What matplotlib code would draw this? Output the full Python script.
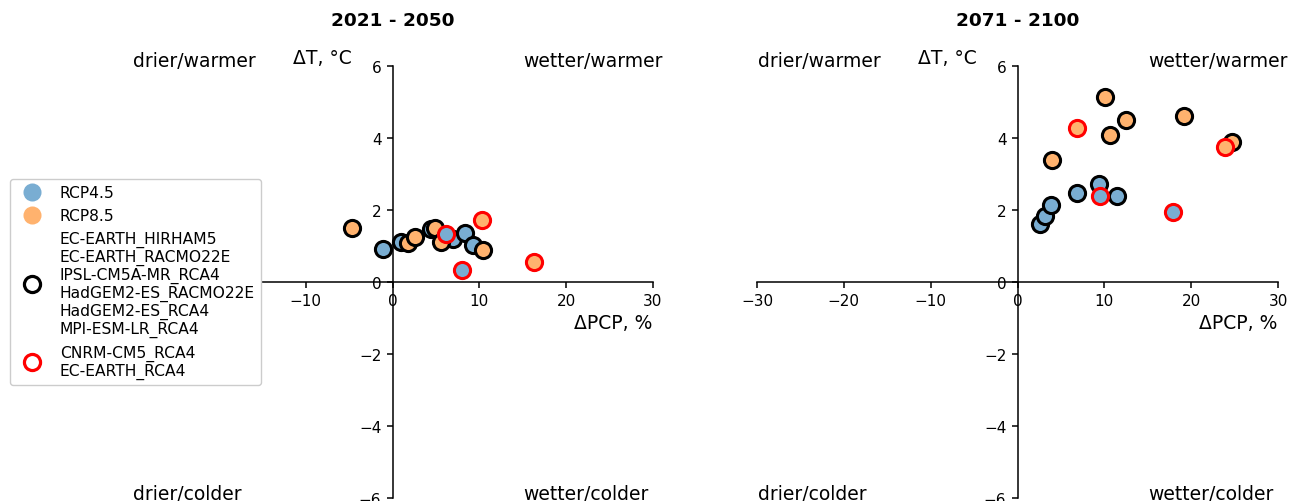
import matplotlib
matplotlib.use("Agg")

import matplotlib.pyplot as plt
from matplotlib.lines import Line2D

# ----------------------------------------------------
# data: change in precipitation (%) and temperature (C)
# ----------------------------------------------------

# 2021 - 2050
near_45_black_pcp = [-1.1, 1.0, 4.4, 7.0, 8.3, 9.3]
near_45_black_t = [0.92, 1.11, 1.48, 1.20, 1.35, 1.02]
near_45_red_pcp = [8.0, 6.2]
near_45_red_t = [0.34, 1.34]
near_85_black_pcp = [-4.7, 1.8, 2.6, 4.9, 5.6, 10.4]
near_85_black_t = [1.50, 1.08, 1.25, 1.50, 1.11, 0.88]
near_85_red_pcp = [10.3, 16.3]
near_85_red_t = [1.72, 0.55]

# 2071 - 2100
far_45_black_pcp = [2.6, 3.2, 3.9, 6.9, 9.35, 11.5]
far_45_black_t = [1.61, 1.84, 2.14, 2.47, 2.72, 2.40]
far_45_red_pcp = [9.5, 17.9]
far_45_red_t = [2.38, 1.94]
far_85_black_pcp = [4.0, 10.1, 10.6, 12.5, 19.2, 24.7]
far_85_black_t = [3.39, 5.13, 4.08, 4.51, 4.62, 3.90]
far_85_red_pcp = [6.9, 23.9]
far_85_red_t = [4.27, 3.74]

periods = ["2021 - 2050", "2071 - 2100"]

black_models = [
    "EC-EARTH_HIRHAM5",
    "EC-EARTH_RACMO22E",
    "IPSL-CM5A-MR_RCA4",
    "HadGEM2-ES_RACMO22E",
    "HadGEM2-ES_RCA4",
    "MPI-ESM-LR_RCA4",
]
red_models = ["CNRM-CM5_RCA4", "EC-EARTH_RCA4"]

blue = "#79add2"
orange = "#ffb26e"

figure = plt.figure(figsize=(13.03, 5.02), dpi=100)

W, H = 1303, 502
ax_w, ax_h = 521 / W, 432 / H
ax_bottom = 3 / H

ax1 = figure.add_axes([132 / W, ax_bottom, ax_w, ax_h])
ax2 = figure.add_axes([757 / W, ax_bottom, ax_w, ax_h])

panels = [
    (ax1, near_45_black_pcp, near_45_black_t, near_85_black_pcp, near_85_black_t,
     near_45_red_pcp, near_45_red_t, near_85_red_pcp, near_85_red_t),
    (ax2, far_45_black_pcp, far_45_black_t, far_85_black_pcp, far_85_black_t,
     far_45_red_pcp, far_45_red_t, far_85_red_pcp, far_85_red_t),
]

for i, (axes, bx45, by45, bx85, by85, rx45, ry45, rx85, ry85) in enumerate(panels):

    axes.scatter(bx45, by45, s=135, facecolor=blue, edgecolor="black", linewidths=2.2, zorder=3)
    axes.scatter(bx85, by85, s=135, facecolor=orange, edgecolor="black", linewidths=2.2, zorder=3)
    axes.scatter(rx45, ry45, s=135, facecolor=blue, edgecolor="red", linewidths=2.2, zorder=3)
    axes.scatter(rx85, ry85, s=135, facecolor=orange, edgecolor="red", linewidths=2.2, zorder=3)

    axes.set_xlim(-30, 30)
    axes.set_ylim(-6, 6)
    axes.set_xticks([-30, -20, -10, 0, 10, 20, 30])
    axes.set_yticks([-6, -4, -2, 0, 2, 4, 6])

    axes.spines["left"].set_position("zero")
    axes.spines["bottom"].set_position("zero")
    axes.spines["right"].set_visible(False)
    axes.spines["top"].set_visible(False)
    for side in ["left", "bottom"]:
        axes.spines[side].set_linewidth(1.1)

    axes.tick_params(labelsize=11, length=4.5, width=1.1)
    axes.patch.set_visible(False)

    # period title and quadrant labels
    axes.text(0.5, 1.095, periods[i], transform=axes.transAxes,
              ha="center", va="baseline", fontsize=13.3, fontweight="bold")
    axes.text(0.002, 1.001, "drier/warmer", transform=axes.transAxes,
              ha="left", va="baseline", fontsize=13.5)
    axes.text(0.750, 1.001, "wetter/warmer", transform=axes.transAxes,
              ha="left", va="baseline", fontsize=13.5)
    axes.text(0.309, 1.008, "ΔT, °C", transform=axes.transAxes,
              ha="left", va="baseline", fontsize=13.5)
    axes.text(0.002, -0.003, "drier/colder", transform=axes.transAxes,
              ha="left", va="baseline", fontsize=13.5)
    axes.text(0.750, -0.003, "wetter/colder", transform=axes.transAxes,
              ha="left", va="baseline", fontsize=13.5)
    axes.text(0.998, 0.3935, "ΔPCP, %", transform=axes.transAxes,
              ha="right", va="baseline", fontsize=13.5)

handles = [
    Line2D([], [], marker="o", linestyle="none", markersize=13,
           markerfacecolor=blue, markeredgecolor="none"),
    Line2D([], [], marker="o", linestyle="none", markersize=13,
           markerfacecolor=orange, markeredgecolor="none"),
    Line2D([], [], marker="o", linestyle="none", markersize=11.6,
           markerfacecolor="none", markeredgecolor="black", markeredgewidth=2.3),
    Line2D([], [], marker="o", linestyle="none", markersize=11.6,
           markerfacecolor="none", markeredgecolor="red", markeredgewidth=2.3),
]
labels = ["RCP4.5", "RCP8.5", "\n".join(black_models), "\n".join(red_models)]

legend = ax1.legend(handles, labels, loc="upper left",
                    bbox_to_anchor=(10 / W, 1 - 180 / H),
                    bbox_transform=figure.transFigure,
                    borderaxespad=0, fontsize=11.2, framealpha=1)
for t in legend.get_texts():
    t.set_linespacing(1.15)
legend.set_zorder(10)

figure.savefig("out.png", dpi=100)
